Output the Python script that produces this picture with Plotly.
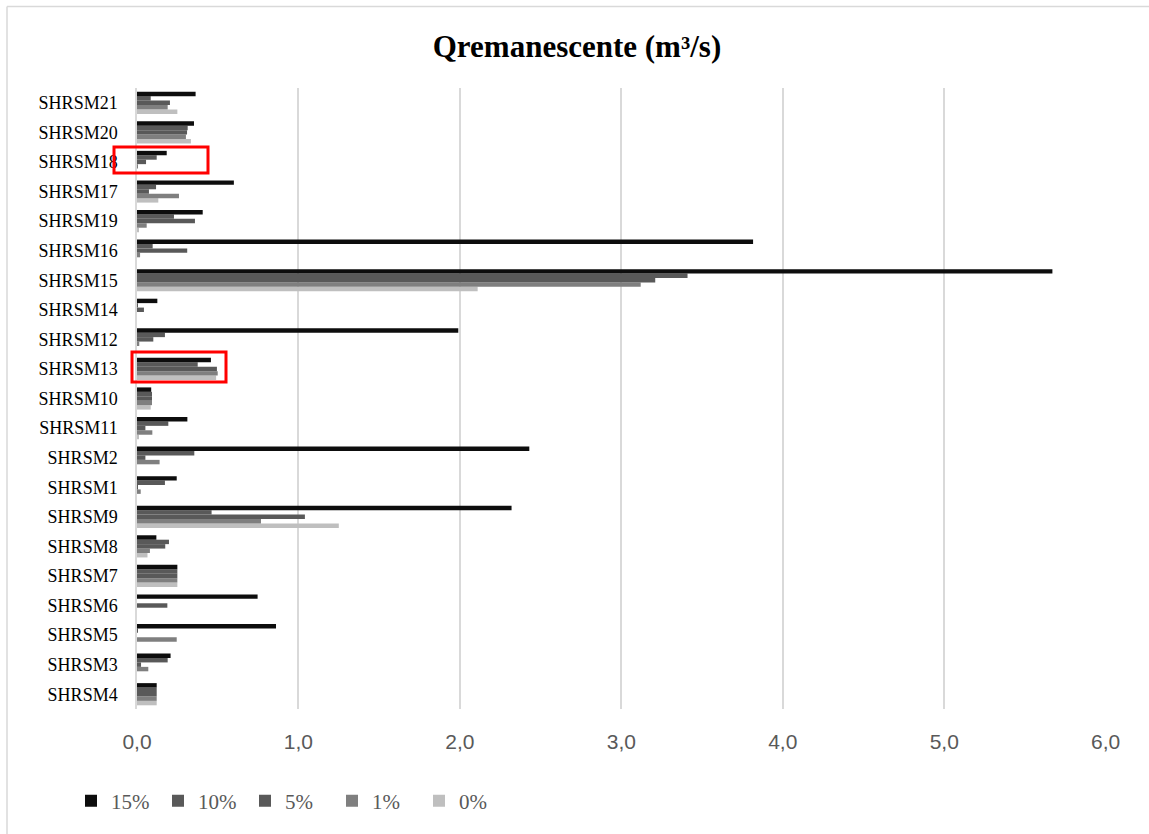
import plotly.graph_objects as go

# Categories listed bottom -> top as drawn
categories = ["SHRSM4", "SHRSM3", "SHRSM5", "SHRSM6", "SHRSM7", "SHRSM8", "SHRSM9",
              "SHRSM1", "SHRSM2", "SHRSM11", "SHRSM10", "SHRSM13", "SHRSM12", "SHRSM14",
              "SHRSM15", "SHRSM16", "SHRSM19", "SHRSM17", "SHRSM18", "SHRSM20", "SHRSM21"]

s15 = [0.122, 0.208, 0.861, 0.747, 0.25, 0.12, 2.32, 0.246, 2.43, 0.312, 0.088,
       0.458, 1.99, 0.126, 5.67, 3.816, 0.407, 0.60, 0.184, 0.353, 0.363]
s10 = [0.122, 0.19, 0.005, 0.0, 0.25, 0.198, 0.462, 0.173, 0.355, 0.194, 0.093,
       0.376, 0.173, 0.005, 3.41, 0.097, 0.229, 0.118, 0.122, 0.314, 0.085]
s5 = [0.122, 0.025, 0.0, 0.188, 0.25, 0.175, 1.04, 0.006, 0.052, 0.052, 0.093,
      0.495, 0.101, 0.043, 3.21, 0.311, 0.359, 0.074, 0.056, 0.31, 0.204]
s1 = [0.122, 0.07, 0.246, 0.0, 0.25, 0.08, 0.768, 0.023, 0.14, 0.095, 0.093,
      0.50, 0.014, 0.0, 3.12, 0.019, 0.06, 0.26, 0.005, 0.303, 0.19]
s0 = [0.122, 0.0, 0.0, 0.0, 0.25, 0.065, 1.25, 0.0, 0.0, 0.01, 0.085,
      0.49, 0.0, 0.0, 2.11, 0.0, 0.01, 0.132, 0.0, 0.334, 0.25]

series_names = ["0%", "1%", "5%", "10%", "15%"]
series_values = [s0, s1, s5, s10, s15]
series_colors = ["#bfbfbf", "#7f7f7f", "#595959", "#595959", "#0d0d0d"]

x_ticks = [0, 1, 2, 3, 4, 5, 6]

# Page body margin is removed by the post script, so the figure fills the window.
OFF = 0
W, H = 1149, 834
ML, MT = 137 - OFF, 88 - OFF
MR = W - (1106 - OFF)
MB = H - (709 - OFF)
PW, PH = W - ML - MR, H - MT - MB


def px(x):
    """page x pixel -> paper fraction"""
    return (x - OFF - ML) / PW


def py(y):
    """page y pixel -> paper fraction"""
    return (H - MB - (y - OFF)) / PH


fig = go.Figure()
for name, vals, col in zip(series_names, series_values, series_colors):
    fig.add_trace(go.Bar(
        y=categories, x=vals, name=name, orientation="h",
        marker=dict(color=col, line=dict(width=0)),
    ))

shapes = [
    # outer chart border: only the top and left edges are visible in the frame
    dict(type="line", xref="paper", yref="paper",
         x0=px(7), x1=px(W + 4), y0=py(6.5), y1=py(6.5),
         line=dict(color="#d9d9d9", width=1.5), layer="below"),
    dict(type="line", xref="paper", yref="paper",
         x0=px(7), x1=px(7), y0=py(6.5), y1=py(H + 4),
         line=dict(color="#d9d9d9", width=1.5), layer="below"),
    # red highlight boxes
    dict(type="rect", xref="paper", yref="paper",
         x0=px(114), x1=px(208), y0=py(173), y1=py(147),
         line=dict(color="#ff0000", width=3)),
    dict(type="rect", xref="paper", yref="paper",
         x0=px(132), x1=px(226), y0=py(382), y1=py(352),
         line=dict(color="#ff0000", width=3)),
]

fig.update_layout(
    width=W, height=H,
    margin=dict(l=ML, r=MR, t=MT, b=MB),
    paper_bgcolor="white", plot_bgcolor="white",
    barmode="group", bargap=0.25, bargroupgap=0,
    separators=", ",
    title=dict(text="<b>Qremanescente (m³/s)</b>", x=px(577), xanchor="center",
               xref="paper",
               y=1 - (46 - OFF) / H, yanchor="middle",
               font=dict(family="Liberation Serif", size=31, color="#000000")),
    xaxis=dict(range=[0, 6.002], tickvals=x_ticks, tickformat=".1f",
               showgrid=True, gridcolor="#d9d9d9", gridwidth=1.5,
               zeroline=False, showline=False, ticks="",
               ticklabelstandoff=18,
               tickfont=dict(family="Liberation Sans", size=21, color="#595959")),
    yaxis=dict(categoryorder="array", categoryarray=categories,
               showgrid=False, zeroline=False, showline=True,
               linecolor="#d9d9d9", linewidth=1.5, ticks="",
               ticklabelstandoff=14,
               tickfont=dict(family="Liberation Serif", size=18, color="#000000")),
    legend=dict(orientation="h", traceorder="reversed",
                x=px(71), xanchor="left", y=py(801), yanchor="middle",
                font=dict(family="Liberation Serif", size=21, color="#595959"),
                itemwidth=30, entrywidth=42, entrywidthmode="pixels",
                bgcolor="rgba(0,0,0,0)"),
    shapes=shapes,
)

page_css = ("document.documentElement.style.overflow='hidden';"
            "document.body.style.margin='0';"
            "document.body.style.overflow='hidden';")
fig.write_html("out.html", post_script=page_css,
               config={"displayModeBar": False})
